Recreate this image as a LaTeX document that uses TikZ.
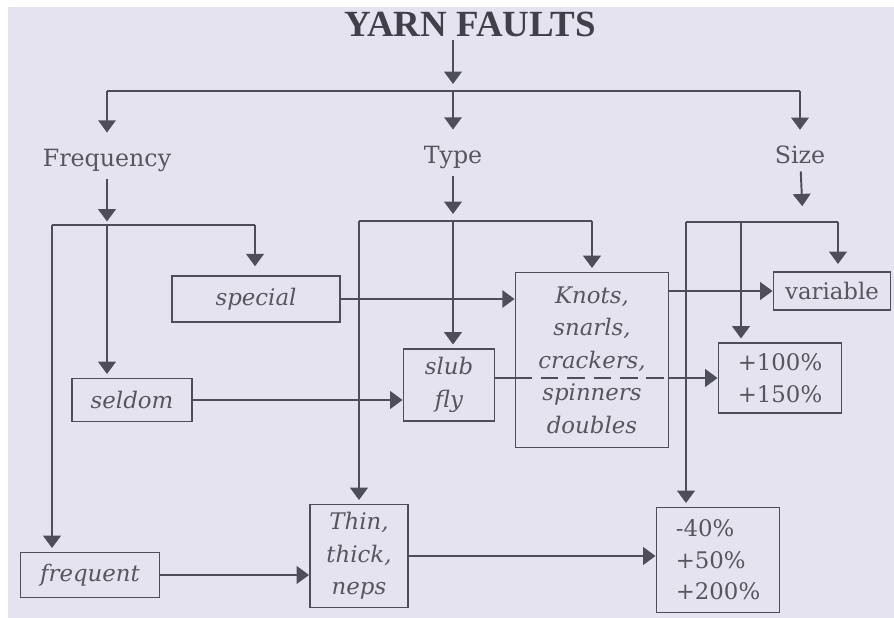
\documentclass[tikz,border=0pt]{standalone}
\usepackage{fontspec}
\setmainfont{DejaVu Serif}
\newfontfamily\titlefont{Liberation Serif}
\usetikzlibrary{arrows.meta, positioning}
\definecolor{page-bg}{HTML}{E6E3F0}
\definecolor{line-color}{HTML}{4E4D5B}
\definecolor{text-color}{HTML}{57565F}
\definecolor{title-color}{HTML}{403F4A}
\tikzset{
  title-node/.style={
    text=title-color, inner sep=2pt,
    font=\titlefont\bfseries\fontsize{21}{23}\selectfont
  },
  head-node/.style={
    text=text-color, inner sep=4pt,
    font=\fontsize{13.5}{16}\selectfont
  },
  fault-box/.style={
    draw=line-color, line width=1.1pt, text=text-color, align=center,
    inner sep=2pt, font=\itshape\fontsize{13}{18.5}\selectfont
  },
  size-box/.style={
    draw=line-color, line width=1.1pt, text=text-color, align=left,
    inner sep=2pt, font=\fontsize{13}{18}\selectfont
  },
  bar-line/.style={line width=1.1pt, draw=line-color},
  flow/.style={-{Triangle[length=7pt, width=10pt]}, line width=1.1pt,
    draw=line-color, shorten >=2pt}
}

\begin{document}
\begin{tikzpicture}[x=0.02cm, y=-0.02cm]
  \useasboundingbox (0,0) rectangle (894,618);
  \fill[white] (0,0) rectangle (894,618);
  \fill[page-bg] (8,7) rectangle (894,618);

  \node[title-node] (title) at (470,24)  {YARN FAULTS};
  \node[head-node]  (freq)  at (107,160) {Frequency};
  \node[head-node]  (type)  at (453,157) {Type};
  \node[head-node]  (size)  at (800,155) {Size};

  \node[fault-box, minimum width=3.36cm, minimum height=0.92cm] (special)  at (256,299) {special};
  \node[fault-box, minimum width=2.4cm,  minimum height=0.86cm] (seldom)   at (132,400) {seldom};
  \node[fault-box, minimum width=2.78cm, minimum height=0.9cm]  (frequent) at (90,575)  {frequent};
  \node[fault-box, minimum width=1.82cm, minimum height=1.44cm] (slub)     at (449,385) {slub\\fly};
  \node[fault-box, minimum width=3.06cm, minimum height=3.5cm]  (knots)    at (592,360) {Knots,\\snarls,\\crackers,\\spinners\\doubles};
  \node[fault-box, minimum width=1.96cm, minimum height=2.06cm] (thin)     at (359,556) {Thin,\\thick,\\neps};
  \node[size-box,  minimum width=2.34cm, minimum height=0.76cm] (variable) at (832,291) {variable};
  \node[size-box,  minimum width=2.46cm, minimum height=1.4cm]  (gain)     at (780,378) {+100\%\\+150\%};
  \node[size-box,  minimum width=2.46cm, minimum height=2.1cm]  (range)    at (718,560) {-40\%\\+50\%\\+200\%};

  \coordinate (top-bar)    at (453,91);
  \coordinate (freq-bar)   at (107,225);
  \coordinate (freq-left)  at (52,225);
  \coordinate (freq-right) at (255,225);
  \coordinate (type-bar)   at (453,221);
  \coordinate (size-bar)   at (803,222);
  \coordinate (size-left)  at (686,222);
  \coordinate (size-mid)   at (741,222);
  \coordinate (size-right) at (838,222);

  % top level
  \draw[flow, shorten >=4pt] (title.south -| top-bar) -- (top-bar);
  \draw[bar-line] (freq |- top-bar) -- (size |- top-bar);
  \draw[flow, shorten >=5pt] (freq |- top-bar) -- (freq);
  \draw[flow, shorten >=5pt] (top-bar) -- (type);
  \draw[flow, shorten >=5pt] (size |- top-bar) -- (size);

  % frequency
  \draw[flow] (freq) -- (freq-bar);
  \draw[bar-line] (freq-left) -- (freq-right);
  \draw[flow] (freq-bar) -- (freq-bar |- seldom.north);
  \draw[flow] (freq-left) -- (freq-left |- frequent.north);
  \draw[flow, shorten >=5pt] (freq-right) -- (freq-right |- special.north);

  % type
  \draw[flow, shorten >=4pt] (type) -- (type-bar);
  \draw[bar-line] (thin |- type-bar) -- (knots |- type-bar);
  \draw[flow] (type-bar) -- (type-bar |- slub.north);
  \draw[flow] (thin |- type-bar) -- (thin);
  \draw[flow] (knots |- type-bar) -- (knots);

  % size
  \draw[flow, shorten >=9pt] (size) -- (size-bar);
  \draw[bar-line] (size-left) -- (size-right);
  \draw[flow, shorten >=4pt] (size-right) -- (size-right |- variable.north);
  \draw[flow] (size-mid) -- (size-mid |- gain.north);
  \draw[flow] (size-left) -- (size-left |- range.north);

  % across
  \draw[flow, shorten >=0pt] (special) -- (special -| knots.west);
  \draw[flow, shorten >=0pt] (knots.east |- variable) -- (variable);
  \draw[flow, shorten >=0pt] (seldom) -- (seldom -| slub.west);
  \draw[bar-line] (slub.east |- gain) -- (knots.west |- gain);
  \draw[bar-line, dash pattern=on 10pt off 5pt] (knots.west |- gain) -- (knots.east |- gain);
  \draw[flow, shorten >=0pt] (knots.east |- gain) -- (gain);
  \draw[flow, shorten >=0pt] (frequent) -- (frequent -| thin.west);
  \draw[flow, shorten >=0pt] (thin) -- (thin -| range.west);
\end{tikzpicture}
\end{document}
